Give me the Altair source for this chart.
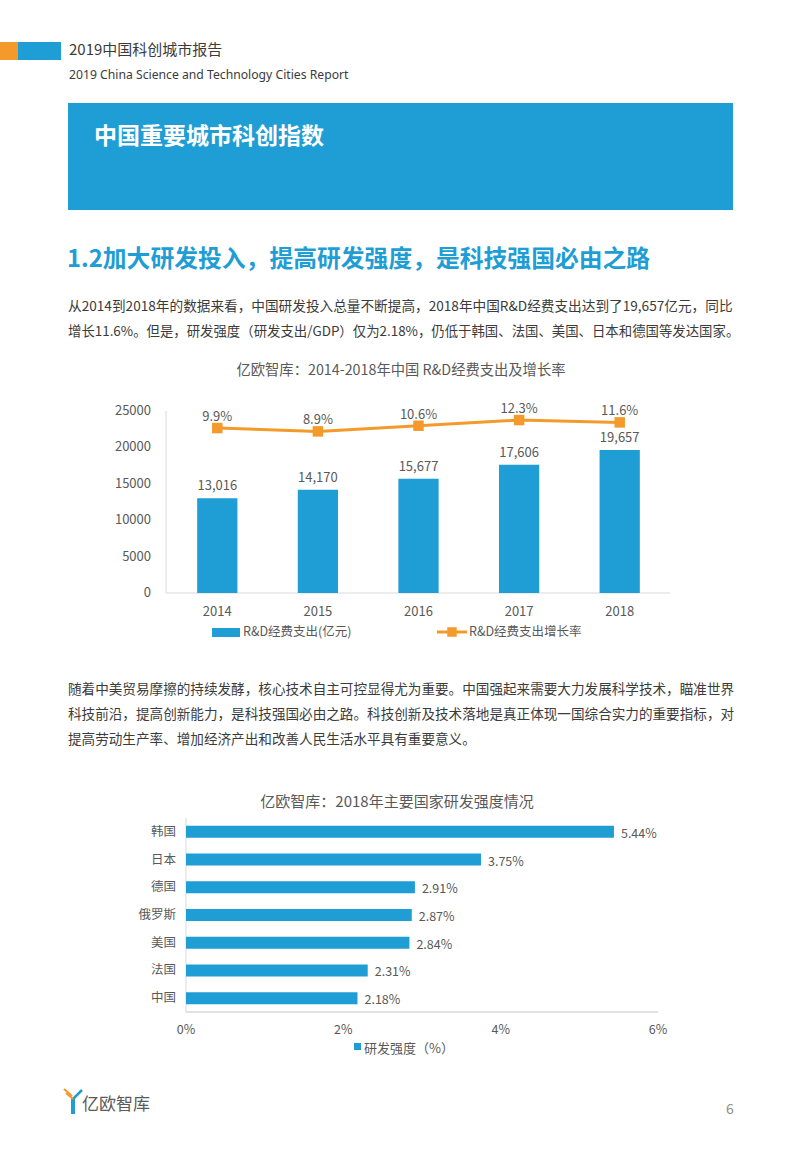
import altair as alt
import pandas as pd

FONT = "Noto Sans CJK SC"
BLUE = "#1f9dd5"
ORANGE = "#f39a2b"
DARK = "#3b3b3b"
GRAY = "#595959"
AXIS = "#d9d9d9"

# ---- texts ----
header_cn = "2019中国科创城市报告"
header_en = "2019 China Science and Technology Cities Report"
box_title = "中国重要城市科创指数"
section_title = "1.2加大研发投入，提高研发强度，是科技强国必由之路"
para1 = [
    "从2014到2018年的数据来看，中国研发投入总量不断提高，2018年中国R&D经费支出达到了19,657亿元，同比",
    "增长11.6%。但是，研发强度（研发支出/GDP）仅为2.18%，仍低于韩国、法国、美国、日本和德国等发达国家。",
]
para1_sizes = [13.65, 13.4]
para2 = [
    "随着中美贸易摩擦的持续发酵，核心技术自主可控显得尤为重要。中国强起来需要大力发展科学技术，瞄准世界",
    "科技前沿，提高创新能力，是科技强国必由之路。科技创新及技术落地是真正体现一国综合实力的重要指标，对",
    "提高劳动生产率、增加经济产出和改善人民生活水平具有重要意义。",
]
para2_sizes = [13.6, 13.6, 13.6]
chart1_title = "亿欧智库：2014-2018年中国 R&D经费支出及增长率"
legend1_bar = "R&D经费支出(亿元)"
legend1_line = "R&D经费支出增长率"
chart2_title = "亿欧智库：2018年主要国家研发强度情况"
legend2 = "研发强度（%）"
logo_text = "亿欧智库"
page_no = "6"

# ---- chart 1 data ----
years = ["2014", "2015", "2016", "2017", "2018"]
rd_spend = [13016, 14170, 15677, 17606, 19657]
growth = [9.9, 8.9, 10.6, 12.3, 11.6]
y1_ticks = [0, 5000, 10000, 15000, 20000, 25000]

# ---- chart 2 data ----
countries = ["韩国", "日本", "德国", "俄罗斯", "美国", "法国", "中国"]
intensity = [5.44, 3.75, 2.91, 2.87, 2.84, 2.31, 2.18]
x2_ticks = [0, 2, 4, 6]

df1 = pd.DataFrame({"year": years, "spend": rd_spend, "growth": growth})
dfy1 = pd.DataFrame({"v": y1_ticks})
df2 = pd.DataFrame({"country": countries, "val": intensity})
dfx2 = pd.DataFrame({"v": x2_ticks})
dummy = pd.DataFrame({"a": [1]})


def txt(s, x, y, size, color=DARK, weight="normal", align="left", font=FONT):
    return alt.Chart(dummy).mark_text(
        text=s, align=align, baseline="middle", fontSize=size, color=color,
        fontWeight=weight, font=font,
    ).encode(x=alt.value(x), y=alt.value(y))


def rect(x0, x1, y0, y1, color):
    return alt.Chart(dummy).mark_rect(color=color).encode(
        x=alt.value(x0), x2=alt.value(x1), y=alt.value(y0), y2=alt.value(y1))


def rule(x0, x1, y0, y1, color, w=1):
    return alt.Chart(dummy).mark_rule(color=color, strokeWidth=w).encode(
        x=alt.value(x0), x2=alt.value(x1), y=alt.value(y0), y2=alt.value(y1))


layers = []

# header
layers += [
    rect(0, 18, 42, 60, ORANGE),
    rect(18, 61, 42, 60, BLUE),
    txt(header_cn, 69, 50, 15, DARK),
    txt(header_en, 69, 75, 12.2, DARK, font="Noto Sans"),
    rect(68, 733, 103, 210, BLUE),
    txt(box_title, 94, 137, 23, "white", weight="bold"),
    txt(section_title, 67, 260, 23.8, BLUE, weight="bold"),
]
for i, line in enumerate(para1):
    layers.append(txt(line, 68, 307 + 25 * i, para1_sizes[i], DARK))
for i, line in enumerate(para2):
    layers.append(txt(line, 68, 690 + 25 * i, para2_sizes[i], DARK))

# ---- chart 1 ----
X1_RANGE = [167, 670]
Y1_RANGE = [593, 411]
xb = alt.X("year:N", axis=None,
           scale=alt.Scale(type="band", domain=years, range=X1_RANGE,
                           paddingInner=0.6, paddingOuter=0.3))
xp = alt.X("year:N", axis=None,
           scale=alt.Scale(type="point", domain=years, range=X1_RANGE, padding=0.5))
y1 = alt.Y("spend:Q", axis=None,
           scale=alt.Scale(domain=[0, 25000], range=Y1_RANGE, nice=False))
yg = alt.Y("growth:Q", axis=None,
           scale=alt.Scale(domain=[0, 14], range=[461, 414.4], nice=False, zero=False))

layers += [
    txt(chart1_title, 401, 371, 14.3, GRAY, align="center"),
    rule(166, 166, 411, 593, AXIS),
    rule(166, 670, 593, 593, AXIS),
    alt.Chart(df1).mark_bar(color=BLUE).encode(x=xb, y=y1),
    alt.Chart(df1).mark_text(fontSize=13, color=GRAY, font=FONT, dy=-12).encode(
        x=xp, y=y1, text=alt.Text("spend:Q", format=",")),
    alt.Chart(dfy1).mark_text(fontSize=13, color=GRAY, font=FONT, align="right",
                              baseline="middle").encode(
        x=alt.value(151),
        y=alt.Y("v:Q", axis=None, scale=alt.Scale(domain=[0, 25000], range=Y1_RANGE, nice=False)),
        text=alt.Text("v:Q", format="d")),
    alt.Chart(df1).mark_text(fontSize=13, color=GRAY, font=FONT, baseline="middle").encode(
        x=xp, y=alt.value(612), text="year:N"),
    alt.Chart(df1).mark_line(color=ORANGE, strokeWidth=3).encode(x=xp, y=yg),
    alt.Chart(df1).mark_square(color=ORANGE, size=110, opacity=1).encode(x=xp, y=yg),
    alt.Chart(df1).transform_calculate(lbl="format(datum.growth, '.1f') + '%'")
    .mark_text(fontSize=13, color=GRAY, font=FONT, dy=-11).encode(x=xp, y=yg, text="lbl:N"),
    # legend
    rect(212, 240, 628, 637, BLUE),
    txt(legend1_bar, 243, 632, 12.5, GRAY),
    rule(437, 467, 632, 632, ORANGE, 3),
    alt.Chart(dummy).mark_square(color=ORANGE, size=90, opacity=1).encode(
        x=alt.value(452), y=alt.value(632)),
    txt(legend1_line, 469, 632, 12.5, GRAY),
]

# ---- chart 2 ----
Y2_RANGE = [818, 1012]
X2_RANGE = [186, 658]
x2 = alt.X("val:Q", axis=None, scale=alt.Scale(domain=[0, 6], range=X2_RANGE, nice=False))
yb2 = alt.Y("country:N", axis=None,
            scale=alt.Scale(type="band", domain=countries, range=Y2_RANGE,
                            paddingInner=0.567, paddingOuter=0.283))
yp2 = alt.Y("country:N", axis=None,
            scale=alt.Scale(type="point", domain=countries, range=Y2_RANGE, padding=0.5))

layers += [
    txt(chart2_title, 397, 802, 15, GRAY, align="center"),
    rule(186, 186, 818, 1012, AXIS),
    rule(186, 658, 1012, 1012, AXIS, 1.5),
    alt.Chart(df2).mark_bar(color=BLUE).encode(x=x2, y=yb2),
    alt.Chart(df2).mark_text(fontSize=12.5, color=GRAY, font=FONT, align="right",
                             baseline="middle").encode(x=alt.value(176), y=yp2, text="country:N"),
    alt.Chart(df2).transform_calculate(lbl="format(datum.val, '.2f') + '%'")
    .mark_text(fontSize=12.5, color=GRAY, font=FONT, align="left", baseline="middle",
               dx=7, dy=2).encode(x=x2, y=yp2, text="lbl:N"),
    alt.Chart(dfx2).transform_calculate(lbl="datum.v + '%'")
    .mark_text(fontSize=12.5, color=GRAY, font=FONT, baseline="middle").encode(
        x=alt.X("v:Q", axis=None, scale=alt.Scale(domain=[0, 6], range=X2_RANGE, nice=False)),
        y=alt.value(1030), text="lbl:N"),
    rect(354, 361, 1043, 1050, BLUE),
    txt(legend2, 364, 1049, 13, GRAY),
]

# ---- footer ----
layers += [
    rule(73, 73, 1099, 1114, BLUE, 4),
    rule(73, 82, 1099, 1090, BLUE, 2.5),
    rule(73, 66, 1099, 1093, ORANGE, 2),
    rule(72, 64, 1096, 1089, ORANGE, 2),
    txt(logo_text, 82, 1105, 17, "#5a5a5a"),
    txt(page_no, 730, 1110, 14, "#8c8c8c", align="center"),
]

chart = (
    alt.layer(*layers)
    .resolve_scale(x="independent", y="independent")
    .properties(width=802, height=1157, autosize="none", padding=0, background="white")
    .configure_view(stroke=None)
)

chart.save("out.html", embed_options={"renderer": "svg", "actions": False})
